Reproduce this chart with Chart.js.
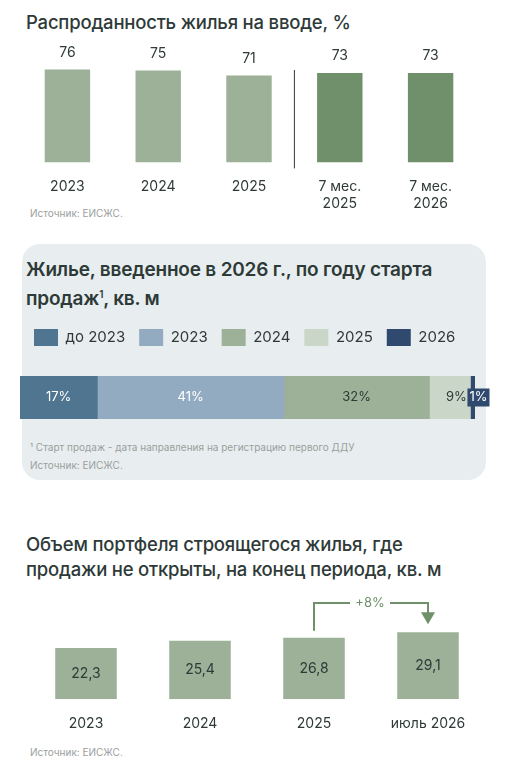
<!DOCTYPE html>
<html><head><meta charset="utf-8">
<script src="https://cdn.jsdelivr.net/npm/chart.js@4"></script>
<style>
body{margin:0;width:509px;height:770px;background:#fff;font-family:Inter,"Noto Sans",sans-serif;color:#2e3a38;position:relative;overflow:hidden}
.t{position:absolute;left:26px;font-size:18.5px;font-weight:500;line-height:25px;letter-spacing:-0.2px}
.s{position:absolute;left:30px;font-size:10px;color:#9a9e9c}
.panel{position:absolute;left:22px;top:244px;width:464px;height:236px;background:#e8eeef;border-radius:18px}
canvas{position:absolute;left:0}
</style></head><body>
<div class="t" style="top:10px">Распроданность жилья на вводе, %</div>
<div class="s" style="top:207px">Источник: ЕИСЖС.</div>
<div class="panel"></div>
<div class="t" style="top:257px;font-weight:600;font-size:19px">Жилье, введенное в 2026 г., по году старта<br>продаж<sup style="font-size:10px">1</sup>, кв. м</div>
<div class="s" style="top:441px">¹ Старт продаж - дата направления на регистрацию первого ДДУ</div>
<div class="s" style="top:459px">Источник: ЕИСЖС.</div>
<div class="t" style="top:532px">Объем портфеля строящегося жилья, где<br>продажи не открыты, на конец периода, кв. м</div>
<div class="s" style="top:746px">Источник: ЕИСЖС.</div>
<div style="position:absolute;left:0;top:40px;width:509px;height:180px"><canvas id="c1"></canvas></div>
<div style="position:absolute;left:0;top:315px;width:509px;height:110px"><canvas id="c2"></canvas></div>
<div style="position:absolute;left:0;top:590px;width:509px;height:150px"><canvas id="c3"></canvas></div>
<script>
const salesLabels = [['2023'], ['2024'], ['2025'], ['7 мес.', '2025'], ['7 мес.', '2026']];
const salesValues = [76, 75, 71, 73, 73];
const salesColors = ['#9cb197', '#9cb197', '#9cb197', '#6f906a', '#6f906a'];

const startLabels = ['до 2023', '2023', '2024', '2025', '2026'];
const startShares = [17, 41, 32, 9, 1];
const startColors = ['#4f7591', '#93abc1', '#9cb197', '#c9d6c8', '#2f4a6e'];
const startText = ['#ffffff', '#ffffff', '#2e3a38', '#2e3a38', '#ffffff'];

const portfolioLabels = ['2023', '2024', '2025', 'июль 2026'];
const portfolioValues = [22.3, 25.4, 26.8, 29.1];
const growthLabel = '+8%';

const FONT = 'Inter, "Noto Sans", sans-serif';
Chart.defaults.font.family = FONT;
Chart.defaults.color = '#2e3a38';
Chart.defaults.animation = false;
Chart.defaults.plugins.tooltip.enabled = false;

const valueLabels = (inside, fmt) => ({
    id: 'vals',
    afterDatasetsDraw(chart) {
        const ctx = chart.ctx;
        const meta = chart.getDatasetMeta(0);
        ctx.save();
        ctx.font = '14px ' + FONT;
        ctx.fillStyle = '#2e3a38';
        ctx.textAlign = 'center';
        meta.data.forEach((bar, i) => {
            const v = chart.data.datasets[0].data[i];
            const y = inside ? (bar.y + bar.base) / 2 : bar.y - 10;
            ctx.textBaseline = inside ? 'middle' : 'bottom';
            ctx.fillText(fmt(v), bar.x, y);
        });
        ctx.restore();
    }
});

// chart 1
const divider = {
    id: 'divider',
    afterDraw(chart) {
        const m = chart.getDatasetMeta(0).data;
        const x = (m[2].x + m[3].x) / 2;
        const ctx = chart.ctx;
        ctx.save();
        ctx.strokeStyle = '#2e3a38';
        ctx.lineWidth = 1;
        ctx.beginPath();
        ctx.moveTo(x, 30); ctx.lineTo(x, chart.chartArea.bottom + 6);
        ctx.stroke();
        ctx.restore();
    }
};
new Chart(document.getElementById('c1'), {
    type: 'bar',
    data: { labels: salesLabels, datasets: [{ data: salesValues, backgroundColor: salesColors, barPercentage: 0.5, categoryPercentage: 1 }] },
    options: {
        maintainAspectRatio: false,
        layout: { padding: { left: 22, right: 33, top: 0 } },
        plugins: { legend: { display: false } },
        scales: {
            y: { display: false, min: 0, max: 100 },
            x: { grid: { display: false }, border: { display: false }, ticks: { font: { size: 14 }, padding: 8 } }
        }
    },
    plugins: [valueLabels(false, v => String(v)), divider]
});

// chart 2
const segLabels = {
    id: 'segs',
    afterDatasetsDraw(chart) {
        const ctx = chart.ctx;
        ctx.save();
        ctx.font = '13px ' + FONT;
        ctx.textBaseline = 'middle';
        ctx.textAlign = 'center';
        chart.data.datasets.forEach((ds, i) => {
            const bar = chart.getDatasetMeta(i).data[0];
            let x = (bar.x + bar.base) / 2;
            const txt = ds.data[0] + '%';
            if (i === 4) {
                const w = ctx.measureText(txt).width + 4;
                x = bar.base + w / 2 - 3;
                ctx.fillStyle = startColors[4];
                ctx.fillRect(x - w / 2, bar.y - 9, w, 18);
            } else if (i === 3) {
                x = bar.x - 14;
            }
            ctx.fillStyle = startText[i];
            ctx.fillText(txt, x, bar.y);
        });
        ctx.restore();
    }
};
new Chart(document.getElementById('c2'), {
    type: 'bar',
    data: {
        labels: [''],
        datasets: startLabels.map((l, i) => ({ label: l, data: [startShares[i]], backgroundColor: startColors[i], barPercentage: 1, categoryPercentage: 1 }))
    },
    options: {
        indexAxis: 'y',
        maintainAspectRatio: false,
        layout: { padding: { left: 20, right: 34, bottom: 6 } },
        plugins: {
            legend: { position: 'top', align: 'start', labels: { boxWidth: 24, boxHeight: 17, padding: 14, font: { size: 15 }, color: '#2e3a38' } }
        },
        scales: {
            x: { display: false, stacked: true, min: 0, max: 100 },
            y: { display: false, stacked: true, afterFit(s) { } }
        }
    },
    plugins: [segLabels, { id: 'legendGap', beforeInit(c) { const f = c.legend.fit; c.legend.fit = function () { f.bind(c.legend)(); this.height += 20; }; } },
        { id: 'barLeft', beforeDatasetsDraw(c) { } }]
});

// chart 3
const growthArrow = {
    id: 'growthArrow',
    afterDatasetsDraw(chart) {
        const m = chart.getDatasetMeta(0).data;
        const a = m[2], b = m[3];
        const top = 13;
        const ctx = chart.ctx;
        ctx.save();
        ctx.strokeStyle = '#6f906a';
        ctx.fillStyle = '#6f906a';
        ctx.lineWidth = 2;
        ctx.beginPath();
        ctx.moveTo(a.x, a.y - 7); ctx.lineTo(a.x, top); ctx.lineTo(350, top);
        ctx.moveTo(390, top); ctx.lineTo(b.x, top); ctx.lineTo(b.x, b.y - 19);
        ctx.stroke();
        ctx.beginPath();
        ctx.moveTo(b.x - 7, b.y - 20); ctx.lineTo(b.x + 7, b.y - 20); ctx.lineTo(b.x, b.y - 8);
        ctx.closePath(); ctx.fill();
        ctx.font = '13px ' + FONT;
        ctx.textAlign = 'center'; ctx.textBaseline = 'middle';
        ctx.fillText(growthLabel, 370, top);
        ctx.restore();
    }
};
new Chart(document.getElementById('c3'), {
    type: 'bar',
    data: { labels: portfolioLabels, datasets: [{ data: portfolioValues, backgroundColor: '#9cb197', barPercentage: 0.54, categoryPercentage: 1 }] },
    options: {
        maintainAspectRatio: false,
        layout: { padding: { left: 29, right: 24, top: 15 } },
        plugins: { legend: { display: false } },
        scales: {
            y: { display: false, min: 0, max: 41 },
            x: { grid: { display: false }, border: { display: false }, ticks: { font: { size: 14 }, padding: 8 } }
        }
    },
    plugins: [valueLabels(true, v => v.toFixed(1).replace('.', ',')), growthArrow]
});
</script>
</body></html>
